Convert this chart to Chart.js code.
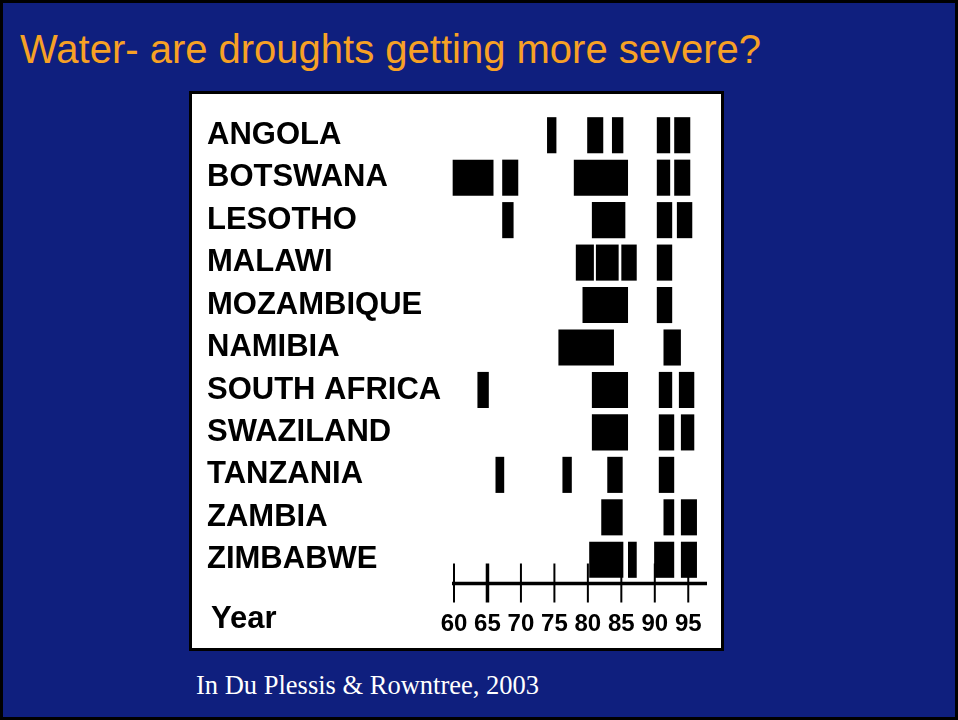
<!DOCTYPE html>
<html>
<head>
<meta charset="utf-8">
<title>Water- are droughts getting more severe?</title>
<script src="https://cdn.jsdelivr.net/npm/chart.js@4.4.1/dist/chart.umd.min.js"></script>
<style>
  html, body { margin: 0; padding: 0; }
  body { width: 958px; height: 720px; overflow: hidden; background: #000; }
  #slide {
    position: relative; width: 958px; height: 720px;
    background: #0f1f7e;
    box-shadow: inset 0 0 0 3px #000;
  }
  #title {
    position: absolute; left: 20px; top: 29px;
    font: 40px/40px "Liberation Sans", Arial, sans-serif;
    color: #f7a125; white-space: nowrap;
  }
  #frame {
    position: absolute; left: 189px; top: 91px;
    width: 535px; height: 560px; box-sizing: border-box;
    border: 3px solid #000; background: #fff;
  }
  #frame canvas { position: absolute; left: 0; top: 0; }
  #yearLabel {
    position: absolute; left: 211px; top: 602px;
    font: bold 31px/31px "Liberation Sans", Arial, sans-serif;
    color: #000;
  }
  #source {
    position: absolute; left: 196px; top: 672px;
    font: 26.5px/26px "Liberation Serif", "Times New Roman", serif;
    color: #fff; white-space: nowrap;
  }
</style>
</head>
<body>
<div id="slide">
  <div id="title">Water- are droughts getting more severe?</div>
  <div id="frame"><canvas id="chart" width="529" height="554"></canvas></div>
  <div id="yearLabel">Year</div>
  <div id="source">In Du Plessis &amp; Rowntree, 2003</div>
</div>
<script>
// Countries, top to bottom
const countries = ['ANGOLA', 'BOTSWANA', 'LESOTHO', 'MALAWI', 'MOZAMBIQUE', 'NAMIBIA',
                   'SOUTH AFRICA', 'SWAZILAND', 'TANZANIA', 'ZAMBIA', 'ZIMBABWE'];

// Drought spells per country as [first year, last year] (years of the 1900s)
const angola      = [[73.9, 75.3], [79.9, 82.3], [83.6, 85.3], [90.3, 92.3], [92.9, 95.3]];
const botswana    = [[59.8, 65.9], [67.2, 69.6], [77.9, 86.0], [90.3, 92.3], [92.9, 95.3]];
const lesotho     = [[67.2, 68.9], [80.6, 85.6], [90.3, 92.6], [93.3, 95.6]];
const malawi      = [[78.2, 80.9], [81.2, 84.6], [85.0, 87.3], [90.3, 92.6]];
const mozambique  = [[79.2, 86.0], [90.3, 92.6]];
const namibia     = [[75.6, 83.9], [91.3, 93.9]];
const southAfrica = [[63.5, 65.2], [80.6, 86.0], [90.6, 92.6], [93.6, 95.9]];
const swaziland   = [[80.6, 86.0], [90.6, 92.9], [93.9, 95.9]];
const tanzania    = [[66.2, 67.5], [76.2, 77.6], [82.9, 85.2], [90.6, 92.9]];
const zambia      = [[82.0, 85.2], [91.3, 92.9], [93.9, 96.3]];
const zimbabwe    = [[80.2, 85.3], [86.0, 87.3], [89.9, 92.9], [93.9, 96.3]];

const spellsByCountry = [angola, botswana, lesotho, malawi, mozambique, namibia,
                         southAfrica, swaziland, tanzania, zambia, zimbabwe];

// Year axis
const yearTicks = [60, 65, 70, 75, 80, 85, 90, 95];
const yearMin = 59.7;
const yearMax = 97.8;

// One dataset per spell slot; all slots share a row (grouped: false)
const slotCount = Math.max(...spellsByCountry.map(s => s.length));
const datasets = [];
for (let k = 0; k < slotCount; k++) {
  datasets.push({
    data: spellsByCountry.map(s => (s[k] !== undefined ? s[k] : null)),
    backgroundColor: '#000',
    borderWidth: 0,
    borderSkipped: false,
    grouped: false,
    barPercentage: 0.85,
    categoryPercentage: 1
  });
}

// Draws the year axis: a heavy base line with ticks crossing it
const yearAxisPlugin = {
  id: 'yearAxis',
  afterDraw(chart, args, opts) {
    const xs = chart.scales.x;
    const ctx = chart.ctx;
    const y = chart.chartArea.bottom + opts.offset;
    ctx.save();
    ctx.strokeStyle = '#000';
    ctx.lineCap = 'butt';
    ctx.lineWidth = opts.lineWidth;
    ctx.beginPath();
    ctx.moveTo(xs.left, y);
    ctx.lineTo(xs.right, y);
    ctx.stroke();
    xs.ticks.forEach(t => {
      const px = xs.getPixelForValue(t.value);
      ctx.lineWidth = opts.heavyTicks.includes(t.value) ? opts.heavyTickWidth : opts.tickWidth;
      ctx.beginPath();
      ctx.moveTo(px, y - opts.above);
      ctx.lineTo(px, y + opts.below);
      ctx.stroke();
    });
    ctx.restore();
  }
};

new Chart(document.getElementById('chart'), {
  type: 'bar',
  data: { labels: countries, datasets },
  plugins: [yearAxisPlugin],
  options: {
    responsive: false,
    animation: false,
    indexAxis: 'y',
    layout: { padding: { left: 15, top: 20, right: 14, bottom: 0 } },
    scales: {
      x: {
        type: 'linear',
        position: 'bottom',
        min: yearMin,
        max: yearMax,
        grid: { display: false },
        border: { display: false },
        ticks: {
          color: '#000',
          font: { family: '"Liberation Sans", Arial, sans-serif', size: 24, weight: 'bold' },
          padding: 21,
          autoSkip: false,
          maxRotation: 0,
          minRotation: 0
        },
        afterBuildTicks(scale) {
          scale.ticks = yearTicks.map(v => ({ value: v }));
        },
        afterFit(scale) {
          scale.height = 67;
          scale.paddingLeft = 0;
          scale.paddingRight = 0;
        }
      },
      y: {
        type: 'category',
        grid: { display: false },
        border: { display: false },
        ticks: {
          color: '#000',
          crossAlign: 'far',
          padding: 0,
          autoSkip: false,
          font: { family: '"Liberation Sans", Arial, sans-serif', size: 31, weight: 'bold' }
        },
        afterFit(scale) {
          scale.width = 245;
          scale.paddingTop = 0;
          scale.paddingBottom = 0;
        }
      }
    },
    plugins: {
      legend: { display: false },
      tooltip: { enabled: false },
      yearAxis: {
        offset: 2.5,
        lineWidth: 3.5,
        above: 20,
        below: 19,
        tickWidth: 2,
        heavyTickWidth: 3.5,
        heavyTicks: [65]
      }
    }
  }
});
</script>
</body>
</html>
